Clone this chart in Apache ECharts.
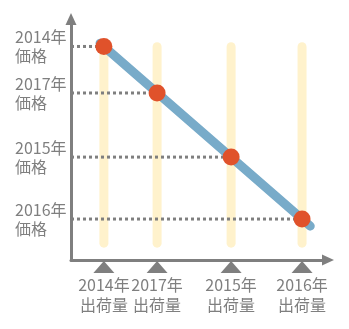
<!DOCTYPE html>
<html><head><meta charset="utf-8">
<script src="https://cdn.jsdelivr.net/npm/echarts@6/dist/echarts.min.js"></script>
<style>html,body{margin:0;padding:0;background:#fff}#c{width:349px;height:329px}</style>
</head><body><div id="c"></div>
<script>
// Data (arbitrary units)
const years = ['2014年', '2017年', '2015年', '2016年'];
const shipment = [12.8, 33.5, 62.3, 89.9];
const price = [88.6, 69.3, 42.7, 17.0];
const xSuffix = '出荷量';
const ySuffix = '価格';

const GUIDE_TOP = 88.5, GUIDE_BOTTOM = 7;
const GRAY = '#7f7f7f';
const FONT = '"Noto Sans CJK JP", "Noto Sans", sans-serif';

// least squares trend line, slightly extended
const n = shipment.length;
const mx = shipment.reduce((a, b) => a + b, 0) / n;
const my = price.reduce((a, b) => a + b, 0) / n;
let sxy = 0, sxx = 0;
for (let i = 0; i < n; i++) { sxy += (shipment[i] - mx) * (price[i] - my); sxx += (shipment[i] - mx) ** 2; }
const slope = sxy / sxx, icpt = my - slope * mx;
const tx0 = Math.min(...shipment) - 1.5, tx1 = Math.max(...shipment) + 3.2;
const trend = [[tx0, icpt + slope * tx0], [tx1, icpt + slope * tx1]];

const series = [];
shipment.forEach((x, i) => {
  series.push({ type: 'line', silent: true, symbol: 'none', z: 1,
    data: [[x, GUIDE_TOP], [x, GUIDE_BOTTOM]],
    lineStyle: { color: '#fff2cc', width: 9, cap: 'round' } });
});
shipment.forEach((x, i) => {
  series.push({ type: 'line', silent: true, symbol: 'none', z: 2,
    data: [[0, price[i]], [x, price[i]]],
    lineStyle: { color: GRAY, width: 3, type: [3, 3] } });
});
series.push({ type: 'line', silent: true, symbol: 'none', z: 3, data: trend,
  lineStyle: { color: '#78abc9', width: 9, cap: 'round' } });
series.push({ type: 'scatter', silent: true, z: 4, symbolSize: 17,
  data: shipment.map((x, i) => [x, price[i]]), itemStyle: { color: '#e0522b', opacity: 1 } });
series.push({ type: 'scatter', silent: true, z: 5, clip: false, symbol: 'triangle',
  symbolSize: [21, 12], symbolOffset: [0, 7],
  data: shipment.map(x => [x, 0]), itemStyle: { color: GRAY, opacity: 1 } });

const chart = echarts.init(document.getElementById('c'), null, { renderer: 'canvas' });
chart.setOption({
  animation: false,
  grid: { left: 71, right: 21, top: 19, bottom: 69, containLabel: false },
  xAxis: {
    type: 'value', min: 0, max: 100,
    axisLine: { lineStyle: { color: GRAY, width: 3 }, symbol: ['none', 'triangle'], symbolSize: [11, 12] },
    axisTick: { show: false }, splitLine: { show: false },
    axisLabel: {
      customValues: shipment, margin: 15, color: GRAY, fontSize: 16, lineHeight: 20, fontFamily: FONT,
      formatter: v => { const i = shipment.indexOf(v); return i < 0 ? '' : years[i] + '\n' + xSuffix; }
    }
  },
  yAxis: {
    type: 'value', min: 0, max: 100,
    axisLine: { lineStyle: { color: GRAY, width: 3 }, symbol: ['none', 'triangle'], symbolSize: [11, 12] },
    axisTick: { show: false }, splitLine: { show: false },
    axisLabel: {
      customValues: price, margin: 56, align: 'left', color: GRAY, fontSize: 16, lineHeight: 19, fontFamily: FONT,
      padding: [0, 0, 3, 0],
      formatter: v => { const i = price.indexOf(v); return i < 0 ? '' : years[i] + '\n' + ySuffix; }
    }
  },
  series: series
});
</script></body></html>
